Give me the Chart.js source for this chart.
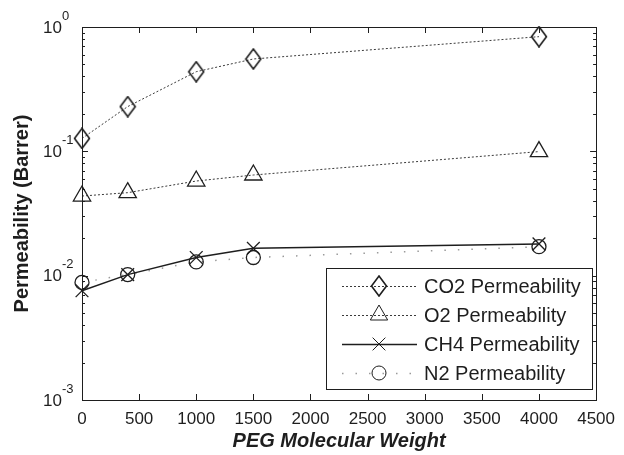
<!DOCTYPE html>
<html>
<head>
<meta charset="utf-8">
<script src="https://cdn.jsdelivr.net/npm/chart.js@4/dist/chart.umd.min.js"></script>
<style>
  html, body { margin: 0; padding: 0; background: #fff; }
  #wrap { width: 624px; height: 455px; }
</style>
</head>
<body>
<div id="wrap"><canvas id="permChart" width="624" height="455"></canvas></div>
<script>
// ----- Data -----
const pegWeights = [0, 400, 1000, 1500, 4000];
const co2Perm = [0.127, 0.229, 0.437, 0.553, 0.836];
const o2Perm = [0.0437, 0.0465, 0.0577, 0.0645, 0.0995];
const ch4Perm = [0.00756, 0.0102, 0.0140, 0.0166, 0.0180];
const n2Perm = [0.00883, 0.0102, 0.0129, 0.0140, 0.0171];

const seriesLabels = ["CO2 Permeability", "O2 Permeability", "CH4 Permeability", "N2 Permeability"];
const xTickStep = 500;
const xMax = 4500;
const yExponents = [-3, -2, -1, 0];

const FONT = "'Liberation Sans', Arial, Helvetica, sans-serif";
const INK = "#1e1e1e";

// hollow tall diamond used as the CO2 marker
function makeDiamond() {
  const c = document.createElement("canvas");
  c.width = 18;
  c.height = 22;
  const g = c.getContext("2d");
  g.strokeStyle = INK;
  g.lineWidth = 1.6;
  g.beginPath();
  g.moveTo(9, 1);
  g.lineTo(16.5, 11);
  g.lineTo(9, 21);
  g.lineTo(1.5, 11);
  g.closePath();
  g.stroke();
  return c;
}
const diamond = makeDiamond();

const toPoints = (ys) => pegWeights.map((x, i) => ({ x, y: ys[i] }));

const datasets = [
  {
    label: seriesLabels[0],
    data: toPoints(co2Perm),
    borderColor: "#3a3a3a",
    borderWidth: 1,
    borderDash: [2, 2],
    pointStyle: diamond,
    pointRadius: 9,
  },
  {
    label: seriesLabels[1],
    data: toPoints(o2Perm),
    borderColor: "#3a3a3a",
    borderWidth: 1,
    borderDash: [2, 2],
    pointStyle: "triangle",
    pointRadius: 10,
  },
  {
    label: seriesLabels[2],
    data: toPoints(ch4Perm),
    borderColor: INK,
    borderWidth: 1.5,
    borderDash: [],
    pointStyle: "crossRot",
    pointRadius: 9,
  },
  {
    label: seriesLabels[3],
    data: toPoints(n2Perm),
    borderColor: "#9a9a9a",
    borderWidth: 1.5,
    borderDash: [1.5, 12],
    pointStyle: "circle",
    pointRadius: 7,
  },
].map(d => Object.assign(d, {
  fill: false,
  tension: 0,
  clip: false,
  pointBorderColor: INK,
  pointBackgroundColor: "rgba(0,0,0,0)",
  pointBorderWidth: 1.3,
}));

// ----- Frame, inward ticks, exponent labels and legend -----
const matlabLook = {
  id: "matlabLook",
  afterDraw(chart) {
    const { ctx, chartArea: a, scales: { x, y } } = chart;
    ctx.save();

    // box
    ctx.strokeStyle = INK;
    ctx.lineWidth = 1;
    ctx.strokeRect(Math.round(a.left) + 0.5, Math.round(a.top) + 0.5,
      Math.round(a.right - a.left), Math.round(a.bottom - a.top));

    // x ticks on bottom and top
    ctx.beginPath();
    for (let v = 0; v <= xMax; v += xTickStep) {
      const px = Math.round(x.getPixelForValue(v)) + 0.5;
      ctx.moveTo(px, a.bottom); ctx.lineTo(px, a.bottom - 6);
      ctx.moveTo(px, a.top); ctx.lineTo(px, a.top + 6);
    }
    // y log ticks, major and minor, on left and right
    yExponents.forEach(e => {
      for (let m = 1; m <= 9; m++) {
        if (e === 0 && m > 1) break;
        const py = Math.round(y.getPixelForValue(m * Math.pow(10, e))) + 0.5;
        const len = m === 1 ? 6 : 3;
        ctx.moveTo(a.left, py); ctx.lineTo(a.left + len, py);
        ctx.moveTo(a.right, py); ctx.lineTo(a.right - len, py);
      }
    });
    ctx.stroke();

    // y labels: 10 with raised exponent
    ctx.fillStyle = INK;
    ctx.textBaseline = "middle";
    yExponents.forEach(e => {
      const py = y.getPixelForValue(Math.pow(10, e));
      ctx.font = `17px ${FONT}`;
      ctx.textAlign = "right";
      ctx.fillText("10", 62, py + 1);
      ctx.font = `13px ${FONT}`;
      ctx.textAlign = "left";
      ctx.fillText(String(e), 62, py - 11);
    });

    // legend
    const box = { left: 326, top: 268, right: 592, bottom: 389 };
    ctx.fillStyle = "#fff";
    ctx.fillRect(box.left, box.top, box.right - box.left, box.bottom - box.top);
    ctx.strokeStyle = INK;
    ctx.lineWidth = 1;
    ctx.strokeRect(box.left + 0.5, box.top + 0.5, box.right - box.left, box.bottom - box.top);

    chart.data.datasets.forEach((ds, i) => {
      const ry = 286 + i * 29;
      ctx.save();
      ctx.strokeStyle = ds.borderColor;
      ctx.lineWidth = ds.borderWidth;
      ctx.setLineDash(ds.borderDash);
      ctx.beginPath();
      ctx.moveTo(342, ry + 0.5);
      ctx.lineTo(417, ry + 0.5);
      ctx.stroke();
      ctx.restore();

      ctx.save();
      ctx.strokeStyle = INK;
      ctx.fillStyle = "rgba(0,0,0,0)";
      Chart.helpers.drawPoint(ctx, {
        pointStyle: ds.pointStyle,
        radius: ds.pointRadius,
        rotation: 0,
        borderWidth: 1.3,
      }, 379, ry);
      ctx.restore();

      ctx.fillStyle = INK;
      ctx.font = `20px ${FONT}`;
      ctx.textAlign = "left";
      ctx.textBaseline = "middle";
      ctx.fillText(ds.label, 424, ry + 1);
    });

    ctx.restore();
  }
};

// ----- Chart -----
document.addEventListener("DOMContentLoaded", () => {
  const ctx = document.getElementById("permChart").getContext("2d");
  window.permChart = new Chart(ctx, {
    type: "line",
    data: { datasets },
    options: {
      responsive: false,
      animation: false,
      layout: { padding: { top: 27, right: 21, left: 0, bottom: 0 } },
      plugins: {
        legend: { display: false },
        tooltip: { enabled: false },
      },
      scales: {
        x: {
          type: "linear",
          min: 0,
          max: xMax,
          grid: { display: false, drawTicks: false },
          border: { display: false },
          ticks: {
            stepSize: xTickStep,
            autoSkip: false,
            maxRotation: 0,
            padding: 9,
            color: INK,
            font: { family: FONT, size: 17 },
            callback: (v) => String(v),
          },
          title: {
            display: true,
            text: "PEG Molecular Weight",
            color: INK,
            font: { family: FONT, size: 20, weight: "bold", style: "italic" },
            padding: { top: 0, bottom: 2 },
          },
          afterFit: (s) => { s.height = 55; },
        },
        y: {
          type: "logarithmic",
          min: 0.001,
          max: 1,
          grid: { display: false, drawTicks: false },
          border: { display: false },
          ticks: { display: false },
          title: {
            display: true,
            text: "Permeability (Barrer)",
            color: INK,
            font: { family: FONT, size: 20, weight: "bold" },
            padding: { top: 10, bottom: 0 },
          },
          afterFit: (s) => { s.width = 82; },
        },
      },
    },
    plugins: [matlabLook],
  });
});
</script>
</body>
</html>
